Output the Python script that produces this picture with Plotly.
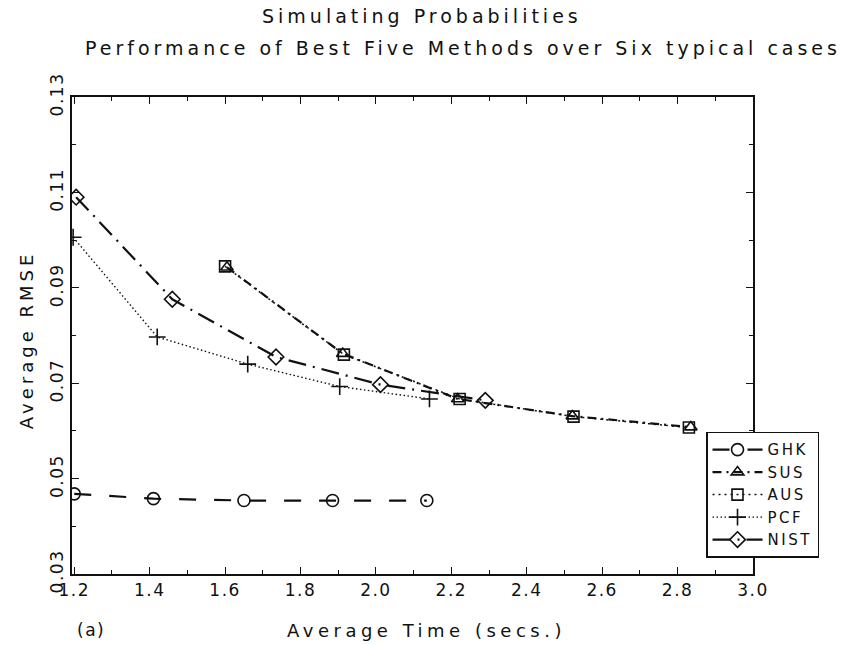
import plotly.graph_objects as go

# ---- data ----
ghk_x = [1.200, 1.410, 1.650, 1.885, 2.135]
ghk_y = [0.0468, 0.0458, 0.0454, 0.0454, 0.0454]

sus_x = [1.605, 1.912, 2.217, 2.521, 2.835]
sus_y = [0.0943, 0.0762, 0.0667, 0.0631, 0.0608]

aus_x = [1.600, 1.915, 2.222, 2.524, 2.830]
aus_y = [0.0945, 0.0760, 0.0667, 0.0630, 0.0607]

pcf_x = [1.197, 1.420, 1.660, 1.904, 2.142]
pcf_y = [0.1006, 0.0797, 0.0740, 0.0693, 0.0667]

nist_x = [1.205, 1.460, 1.735, 2.012, 2.290]
nist_y = [0.1090, 0.0876, 0.0755, 0.0697, 0.0664]

names = ["GHK", "SUS", "AUS", "PCF", "NIST"]
y_ticks = [0.03, 0.05, 0.07, 0.09, 0.11, 0.13]
x_ticks = [1.2, 1.4, 1.6, 1.8, 2.0, 2.2, 2.4, 2.6, 2.8, 3.0]

FONT = "DejaVu Sans"
BLACK = "#111111"


def spaced(text, px):
    return f'<span style="letter-spacing:{px}px">{text}</span>'


fig = go.Figure()

series = [
    (ghk_x, ghk_y, names[0], "circle-open", "17px,18px", 2.2, 12),
    (sus_x, sus_y, names[1], "triangle-up-open", "9px,5px,2px,5px", 2.2, 11),
    (aus_x, aus_y, names[2], "square-open", "2px,4px", 1.5, 11),
    (pcf_x, pcf_y, names[3], "cross-thin-open", "1.5px,2.5px", 1.4, 12),
    (nist_x, nist_y, names[4], "diamond-open", "18px,7px,2px,7px", 2.2, 12),
]

for xs, ys, nm, sym, dash, lw, ms in series:
    fig.add_trace(go.Scatter(
        x=xs, y=ys, name=spaced(nm, 2.5), mode="lines+markers",
        line=dict(color=BLACK, width=lw, dash=dash),
        marker=dict(symbol=sym, size=ms, color=BLACK,
                    line=dict(color=BLACK, width=1.6)),
    ))

axis_common = dict(
    showline=True, linecolor=BLACK, linewidth=2, mirror="ticks",
    ticks="inside", ticklen=7, tickwidth=1.3, tickcolor=BLACK,
    showgrid=False, zeroline=False,
    tickfont=dict(family=FONT, size=17, color=BLACK),
)

fig.update_xaxes(
    range=[1.194, 3.0], tickvals=x_ticks,
    ticktext=[spaced(f"{v:.1f}", 1.5) for v in x_ticks],
    minor=dict(dtick=0.1, ticks="inside", ticklen=4, tickcolor=BLACK, tickwidth=1),
    **axis_common,
)
fig.update_yaxes(
    range=[0.03, 0.13], tickvals=y_ticks,
    ticktext=[spaced(f"{v:.2f}", 1.5) for v in y_ticks],
    tickangle=-90,
    minor=dict(dtick=0.01, ticks="inside", ticklen=4, tickcolor=BLACK, tickwidth=1),
    **axis_common,
)

fig.update_layout(
    width=847, height=645,
    margin=dict(l=72, r=94, t=97, b=71),
    paper_bgcolor="white", plot_bgcolor="white",
    font=dict(family=FONT, size=15, color=BLACK),
    showlegend=True,
    legend=dict(
        x=0.931, y=0.298, xanchor="left", yanchor="top",
        bordercolor=BLACK, borderwidth=1.5, bgcolor="white",
        font=dict(family=FONT, size=15, color=BLACK),
        itemwidth=50, tracegroupgap=0,
    ),
    annotations=[
        dict(text=spaced("Simulating Probabilities", 4), xref="paper", yref="paper",
             x=0.514, y=1.0, yshift=94, yanchor="top", showarrow=False,
             font=dict(family=FONT, size=19, color=BLACK)),
        dict(text=spaced("Performance of Best Five Methods over Six typical cases", 4),
             xref="paper", yref="paper", x=0.574, y=1.0, yshift=62, yanchor="top",
             showarrow=False, font=dict(family=FONT, size=19, color=BLACK)),
        dict(text=spaced("Average Time (secs.)", 4.5), xref="paper", yref="paper",
             x=0.52, y=0.0, yshift=-56, yanchor="middle", showarrow=False,
             font=dict(family=FONT, size=18, color=BLACK)),
        dict(text=spaced("Average RMSE", 4), xref="paper", yref="paper",
             x=0.0, xshift=-58, y=0.68, textangle=-90, showarrow=False,
             font=dict(family=FONT, size=18, color=BLACK)),
        dict(text=spaced("(a)", 1.5), xref="paper", yref="paper", x=0.0, xshift=3,
             xanchor="left", y=0.0, yshift=-56, yanchor="middle", showarrow=False,
             font=dict(family=FONT, size=17, color=BLACK)),
    ],
)

fig.write_html("out.html")
